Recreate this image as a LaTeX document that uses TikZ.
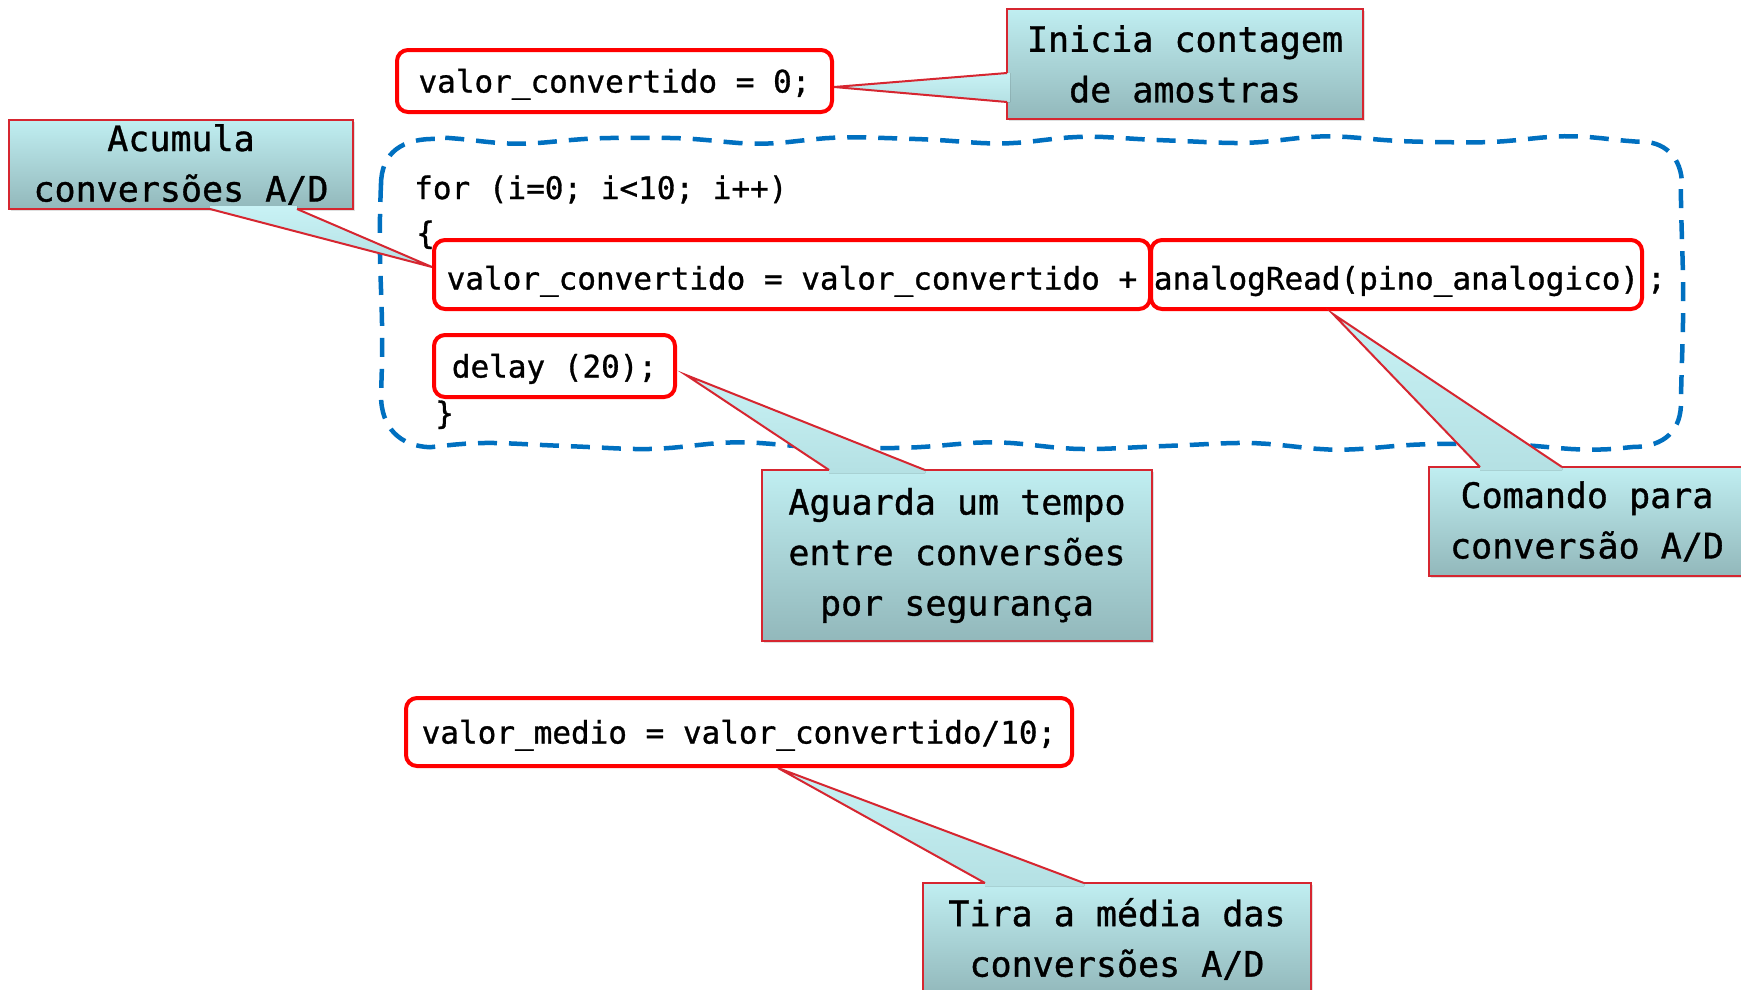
\documentclass[tikz,border=0pt]{standalone}
\usepackage{fontspec}
\setmonofont{DejaVu Sans Mono}[BoldFont={DejaVu Sans Mono},BoldFeatures={FakeBold=1}]
\usetikzlibrary{calc,shadows}
\definecolor{boxred}{RGB}{255,0,0}
\definecolor{callred}{RGB}{214,38,48}
\definecolor{calltop}{RGB}{192,238,241}
\definecolor{callbot}{RGB}{146,184,187}
\definecolor{tiplight}{RGB}{200,242,245}
\definecolor{loopblue}{RGB}{0,112,192}
\begin{document}
\begin{tikzpicture}[x=1pt,y=-1pt,
  codebox/.style={draw=boxred, line width=4pt, rounded corners=11pt, fill=white,
    font=\ttfamily\bfseries\fontsize{31}{37}\selectfont, inner xsep=2pt, inner ysep=0pt,
    outer sep=0pt, text height=23pt, text depth=0pt},
  lowcode/.style={text height=30pt, text depth=0pt},
  codetext/.style={font=\ttfamily\bfseries\fontsize{31}{37}\selectfont, inner sep=0pt,
    anchor=west, text height=23pt, text depth=7pt},
  callbox/.style={draw=callred, line width=2pt, top color=calltop, bottom color=callbot,
    font=\ttfamily\bfseries\fontsize{35}{50.5}\selectfont, align=center, inner sep=0pt, outer sep=0pt,
    drop shadow={opacity=0.25, shadow xshift=2pt, shadow yshift=-2pt}},
  pointerfill/.style={top color=tiplight, bottom color=calltop!75!callbot},
  pointerline/.style={draw=callred, line width=2pt, line join=miter},
  loopline/.style={draw=loopblue, line width=4.5pt, dash pattern=on 19pt off 12pt}
]
\useasboundingbox[fill=white] (0,0) rectangle (1741,989);

% dashed loop outline
\draw[loopline] (381,185) .. controls (381,152) and (403,138) .. (437,139)
  -- plot[domain=437:1637, samples=100] (\x,{140+3*sin(1.55*\x)+0.8*sin(2.9*\x+40)})
  .. controls (1665,140) and (1682,158) .. (1682,185)
  -- plot[domain=185:400, samples=20] ({1682+1.2*sin(1.5*\x)},\x)
  .. controls (1682,430) and (1665,447) .. (1632,447)
  -- plot[domain=0:1202, samples=100] ({1632-\x},{446+3*sin(1.5*\x+20)+0.8*sin(2.7*\x)})
  .. controls (400,446) and (381,428) .. (381,395)
  -- plot[domain=0:210, samples=20] ({381+1.2*sin(1.7*\x)},{395-\x})
  -- cycle;

% code
\node[codebox, minimum width=435pt, minimum height=62pt] (bA) at (614.5,81) {valor\_convertido = 0;};
\node[codetext] (for) at (414,191) {for (i=0; i<10; i++)};
\node[codetext] (ob) at (416,236) {\{};
\node[codebox, lowcode, minimum width=716pt, minimum height=69pt] (bB) at (792,274.5) {valor\_convertido = valor\_convertido +};
\node[codebox, lowcode, minimum width=491pt, minimum height=69pt] (bC) at (1396.5,274.5) {analogRead(pino\_analogico)};
\node[codetext] (sc) at (1647,281) {;};
\node[codebox, minimum width=241pt, minimum height=62pt] (bD) at (554.5,366) {delay (20);};
\node[codetext] (cb) at (435,416) {\}};
\node[codebox, minimum width=666pt, minimum height=68pt] (bE) at (739,732) {valor\_medio = valor\_convertido/10;};

% callouts
\node[callbox, minimum width=356pt, minimum height=110pt] (ini) at (1185,64) {Inicia contagem\\de amostras};
\node[callbox, minimum width=344pt, minimum height=89pt] (acu) at (181,164.5) {Acumula\\conversões A/D};
\node[callbox, minimum width=390pt, minimum height=171pt] (agu) at (957,555.5) {Aguarda um tempo\\entre conversões\\por segurança};
\node[callbox, minimum width=316pt, minimum height=109pt] (com) at (1587,521.5) {Comando para\\conversão A/D};
\node[callbox, minimum width=388pt, minimum height=112pt] (tir) at (1117,939) {Tira a média das\\conversões A/D};

% pointer tips
\coordinate (tA) at ($(bA.east)+(2,6)$);
\coordinate (tB) at ($(bB.west)+(-2,-7.5)$);
\coordinate (tD) at ($(bD.east)+(11,9)$);
\coordinate (tC) at ($(bC.south west)+(182,5)$);
\coordinate (tE) at ($(bE.south)+(39,2)$);

% Inicia pointer
\coordinate (i1) at ($(ini.north west)+(0,64)$);
\coordinate (i2) at ($(ini.north west)+(0,93)$);
\fill[pointerfill] ($(i1)+(3,0)$) -- (i1) -- (tA) -- (i2) -- ($(i2)+(3,0)$) -- cycle;
\draw[pointerline] (i1) -- (tA) -- (i2);

% Acumula pointer
\coordinate (a1) at ($(acu.south west)+(201,0)$);
\coordinate (a2) at ($(acu.south west)+(288,0)$);
\fill[pointerfill] ($(a1)+(0,-3)$) -- (a1) -- (tB) -- (a2) -- ($(a2)+(0,-3)$) -- cycle;
\draw[pointerline] (a1) -- (tB) -- (a2);

% Aguarda pointer
\coordinate (g1) at ($(agu.north west)+(67,0)$);
\coordinate (g2) at ($(agu.north west)+(163,0)$);
\fill[pointerfill] ($(g1)+(0,3)$) -- (g1) -- (tD) -- (g2) -- ($(g2)+(0,3)$) -- cycle;
\draw[pointerline] (g1) -- (tD) -- (g2);

% Comando pointer
\coordinate (c1) at ($(com.north west)+(51,0)$);
\coordinate (c2) at ($(com.north west)+(133,0)$);
\fill[pointerfill] ($(c1)+(0,3)$) -- (c1) -- (tC) -- (c2) -- ($(c2)+(0,3)$) -- cycle;
\draw[pointerline] (c1) -- (tC) -- (c2);

% Tira pointer
\coordinate (e1) at ($(tir.north west)+(62,0)$);
\coordinate (e2) at ($(tir.north west)+(161,0)$);
\fill[pointerfill] ($(e1)+(0,3)$) -- (e1) -- (tE) -- (e2) -- ($(e2)+(0,3)$) -- cycle;
\draw[pointerline] (e1) -- (tE) -- (e2);
\end{tikzpicture}
\end{document}
